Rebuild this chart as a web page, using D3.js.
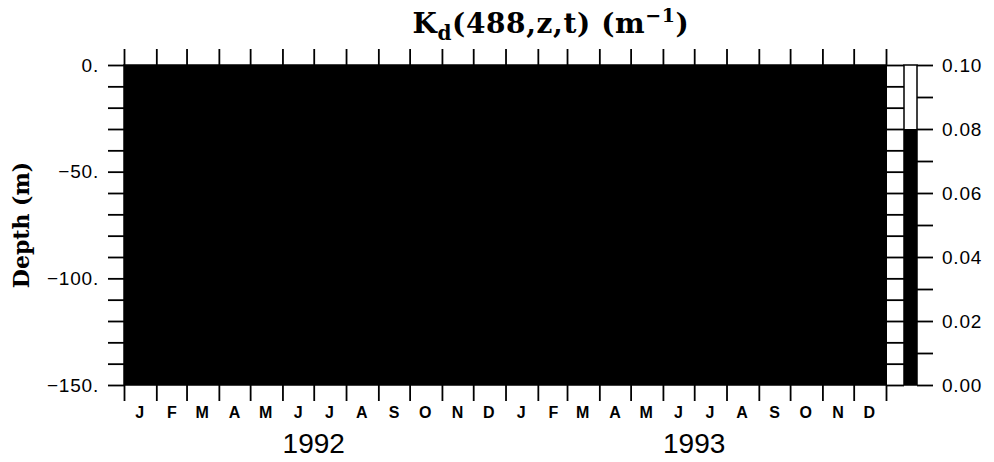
<!DOCTYPE html>
<html>
<head>
<meta charset="utf-8">
<script src="https://cdn.jsdelivr.net/npm/d3@7"></script>
<style>
  body { margin: 0; background: #fff; }
  svg { display: block; }
</style>
</head>
<body>
<script>
'use strict';

// chart data
const monthLabels = ["J", "F", "M", "A", "M", "J", "J", "A", "S", "O", "N", "D"];
const years = [1992, 1993];
const depthTicks = [0, -10, -20, -30, -40, -50, -60, -70, -80, -90, -100, -110, -120, -130, -140, -150];
const depthLabels = [0, -50, -100, -150];
const depthLevels = [0, -150];
// monthly Kd(488) over the whole column; every value falls in the black band of the scale
const kdMonthly = [0.03, 0.03, 0.03, 0.03, 0.03, 0.03, 0.03, 0.03, 0.03, 0.03, 0.03, 0.03,
                   0.03, 0.03, 0.03, 0.03, 0.03, 0.03, 0.03, 0.03, 0.03, 0.03, 0.03, 0.03];
const kdBreaks = [0.08];
const kdColors = ["#000", "#fff"];
const kdTicks = [0, 0.01, 0.02, 0.03, 0.04, 0.05, 0.06, 0.07, 0.08, 0.09, 0.10];
const kdLabels = [0, 0.02, 0.04, 0.06, 0.08, 0.10];

window.onload = function() {
  let width = 994;
  let height = 462;
  let left = 124, right = 886, top = 65, bottom = 385;
  let sans = "'Liberation Sans', Arial, sans-serif";
  let serif = "'DejaVu Serif', serif";

  let svg = d3.select("body").append("svg")
    .attr("width", width)
    .attr("height", height);

  let x = d3.scaleTime()
    .domain([new Date(years[0], 0, 1), new Date(years[years.length - 1] + 1, 0, 1)])
    .range([left, right]);
  let y = d3.scaleLinear()
    .domain(d3.extent(depthLevels))
    .range([bottom, top]);
  let color = d3.scaleThreshold()
    .domain(kdBreaks)
    .range(kdColors);

  let months = d3.timeMonth.range(x.domain()[0], x.domain()[1]);

  // field cells
  svg.append("g")
    .attr("shape-rendering", "crispEdges")
    .selectAll("rect")
    .data(months)
    .enter()
    .append("rect")
    .attr("x", d => x(d))
    .attr("width", d => x(d3.timeMonth.offset(d, 1)) - x(d) + 1)
    .attr("y", y(depthLevels[0]))
    .attr("height", y(depthLevels[1]) - y(depthLevels[0]))
    .attr("fill", (d, i) => color(kdMonthly[i]));

  svg.append("rect")
    .attr("x", left).attr("y", top)
    .attr("width", right - left).attr("height", bottom - top)
    .attr("fill", "none")
    .attr("stroke", "#000")
    .attr("stroke-width", 1.5);

  let monthEdges = months.concat([x.domain()[1]]);

  // top and bottom month ticks
  let topAxis = svg.append("g")
    .attr("transform", "translate(0," + top + ")")
    .call(d3.axisTop(x).tickValues(monthEdges).tickSize(16).tickFormat(""));
  let bottomAxis = svg.append("g")
    .attr("transform", "translate(0," + bottom + ")")
    .call(d3.axisBottom(x).tickValues(monthEdges).tickSize(16).tickFormat(""));

  // month letters at mid-month
  svg.append("g").selectAll("text")
    .data(months)
    .enter()
    .append("text")
    .attr("x", d => x(new Date(d.getFullYear(), d.getMonth(), 16)))
    .attr("y", 418)
    .attr("text-anchor", "middle")
    .style("font-family", sans)
    .style("font-weight", "bold")
    .style("font-size", "16px")
    .text(d => monthLabels[d.getMonth()]);

  svg.append("g").selectAll("text")
    .data(years)
    .enter()
    .append("text")
    .attr("x", d => x(new Date(d, 6, 1)))
    .attr("y", 453)
    .attr("text-anchor", "middle")
    .style("font-family", sans)
    .style("font-size", "28px")
    .text(d => d);

  // depth axes
  let leftAxis = svg.append("g")
    .attr("transform", "translate(" + left + ",0)")
    .call(d3.axisLeft(y).tickValues(depthTicks).tickSize(16).tickPadding(9)
      .tickFormat(d => depthLabels.includes(d) ? (d === 0 ? "0." : "\u2212" + Math.abs(d) + ".") : ""));
  let rightAxis = svg.append("g")
    .attr("transform", "translate(" + right + ",0)")
    .call(d3.axisRight(y).tickValues(depthTicks).tickSize(18).tickFormat(""));

  [topAxis, bottomAxis, leftAxis, rightAxis].forEach(a => {
    a.select(".domain").remove();
    a.selectAll("line").attr("stroke", "#000").attr("stroke-width", 1.8);
  });
  leftAxis.selectAll("text")
    .style("font-family", sans)
    .style("font-size", "19px")
    .style("letter-spacing", "0.8px")
    .attr("fill", "#000");

  svg.append("text")
    .attr("transform", "translate(29," + ((top + bottom) / 2) + ") rotate(-90)")
    .attr("text-anchor", "middle")
    .style("font-family", serif)
    .style("font-weight", "bold")
    .style("font-size", "22px")
    .text("Depth (m)");

  // colour bar
  let cbX = 904, cbW = 13;
  let c = d3.scaleLinear()
    .domain(d3.extent(kdTicks))
    .range([bottom, top]);
  let bands = [d3.min(kdTicks)].concat(kdBreaks, [d3.max(kdTicks)]);
  svg.append("g").selectAll("rect")
    .data(d3.pairs(bands))
    .enter()
    .append("rect")
    .attr("x", cbX)
    .attr("width", cbW)
    .attr("y", d => c(d[1]))
    .attr("height", d => c(d[0]) - c(d[1]))
    .attr("fill", d => color(d[0]));
  svg.append("rect")
    .attr("x", cbX).attr("y", top)
    .attr("width", cbW).attr("height", bottom - top)
    .attr("fill", "none")
    .attr("stroke", "#000")
    .attr("stroke-width", 1.5);

  let cbAxis = svg.append("g")
    .attr("transform", "translate(" + (cbX + cbW) + ",0)")
    .call(d3.axisRight(c).tickValues(kdTicks).tickSize(16).tickPadding(9)
      .tickFormat(d => kdLabels.some(v => Math.abs(v - d) < 1e-9) ? d3.format(".2f")(d) : ""));
  cbAxis.select(".domain").remove();
  cbAxis.selectAll("line").attr("stroke", "#000").attr("stroke-width", 1.8);
  cbAxis.selectAll("text")
    .style("font-family", sans)
    .style("font-size", "19px")
    .style("letter-spacing", "0.8px")
    .attr("fill", "#000");

  // title with subscript and superscript
  let title = svg.append("text")
    .attr("x", 551)
    .attr("y", 33)
    .attr("text-anchor", "middle")
    .style("font-family", serif)
    .style("font-weight", "bold")
    .style("font-size", "28px")
    .style("letter-spacing", "0.6px");
  title.append("tspan").text("K");
  title.append("tspan").attr("dy", 7).style("font-size", "20px").text("d");
  title.append("tspan").attr("dy", -7).text("(488,z,t)\u00a0(m");
  title.append("tspan").attr("dy", -11).style("font-size", "19px").text("\u22121");
  title.append("tspan").attr("dy", 11).text(")");
};
</script>
</body>
</html>
